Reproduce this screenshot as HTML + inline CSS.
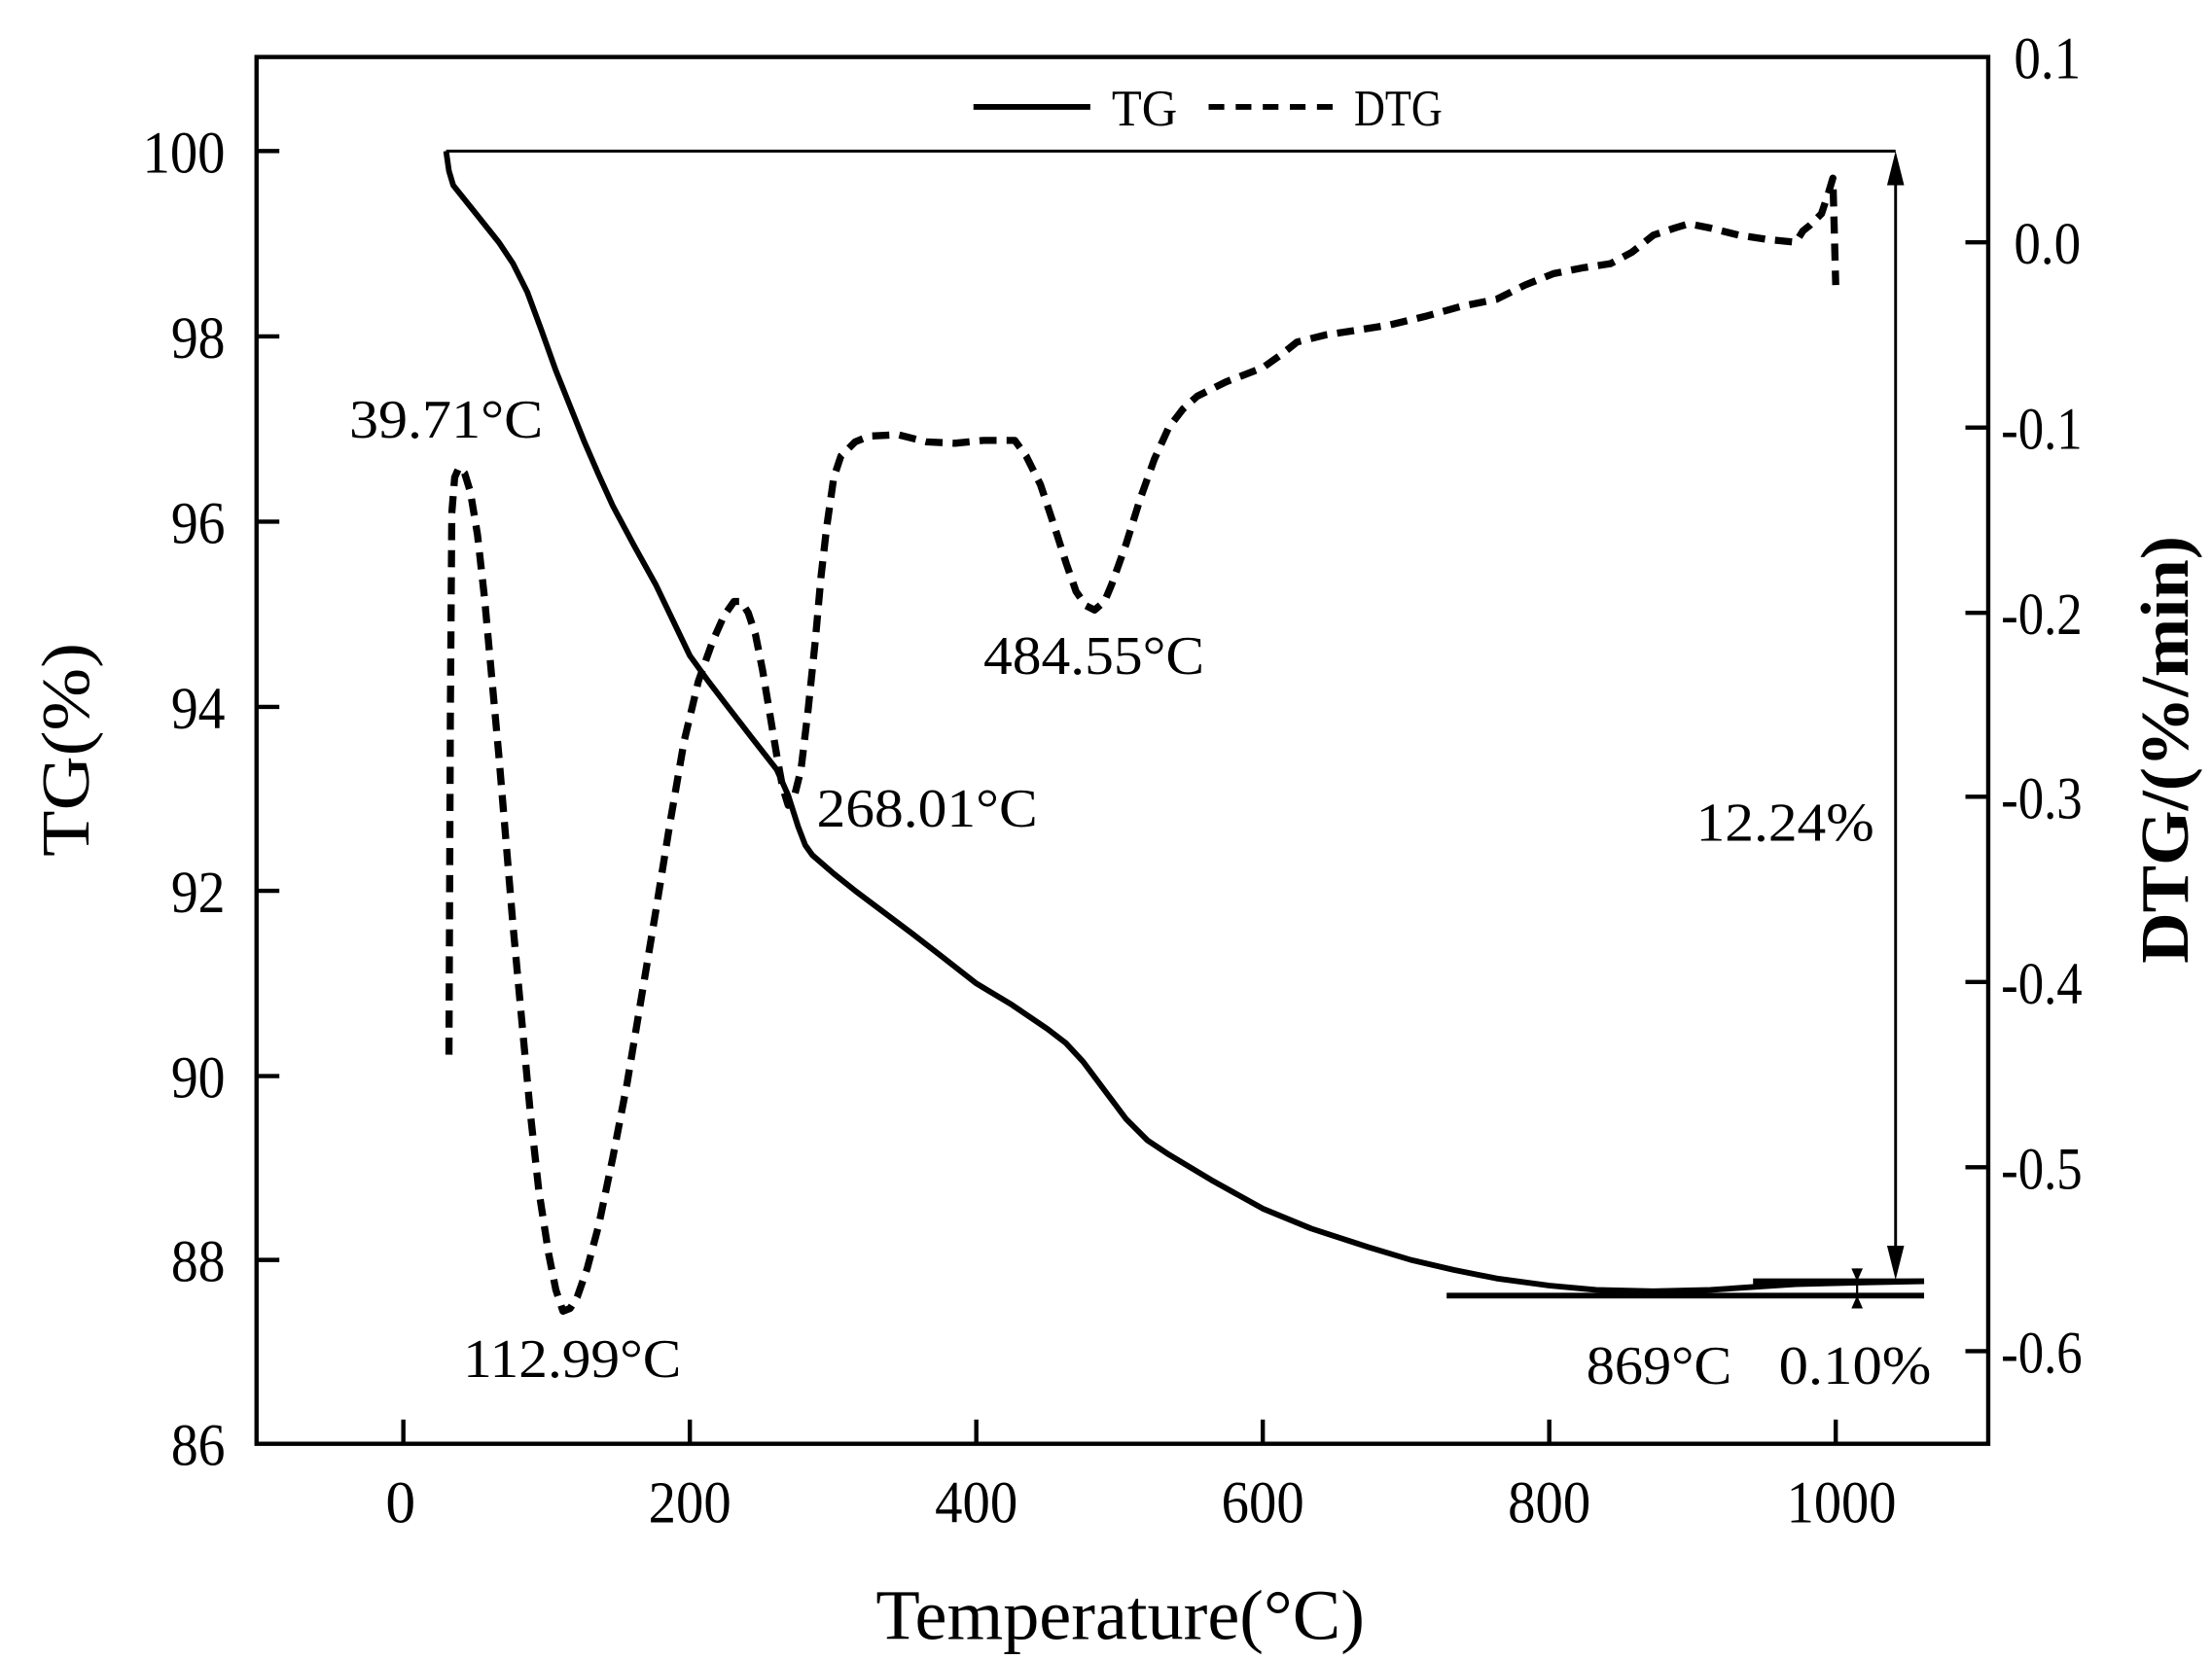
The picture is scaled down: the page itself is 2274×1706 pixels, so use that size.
<!DOCTYPE html>
<html><head><meta charset="utf-8"><style>
html,body{margin:0;padding:0;background:#fff;}
svg{display:block;}
text{font-family:"Liberation Serif",serif;fill:#000;}
</style></head><body>
<svg width="2274" height="1706" viewBox="0 0 1552 1164" preserveAspectRatio="none" xmlns="http://www.w3.org/2000/svg">
<rect x="0" y="0" width="1552" height="1164" fill="#fff"/>
<rect x="180" y="40" width="1215" height="973" fill="none" stroke="#000" stroke-width="3"/>
<g stroke="#000" stroke-width="3">
<line x1="283" y1="1013" x2="283" y2="996"/><line x1="484" y1="1013" x2="484" y2="996"/><line x1="685" y1="1013" x2="685" y2="996"/><line x1="886" y1="1013" x2="886" y2="996"/><line x1="1087" y1="1013" x2="1087" y2="996"/><line x1="1288" y1="1013" x2="1288" y2="996"/>
<line x1="180" y1="106" x2="196" y2="106"/><line x1="180" y1="236" x2="196" y2="236"/><line x1="180" y1="366" x2="196" y2="366"/><line x1="180" y1="496" x2="196" y2="496"/><line x1="180" y1="625" x2="196" y2="625"/><line x1="180" y1="755" x2="196" y2="755"/><line x1="180" y1="884" x2="196" y2="884"/>
<line x1="1379" y1="170" x2="1395" y2="170"/><line x1="1379" y1="300" x2="1395" y2="300"/><line x1="1379" y1="430" x2="1395" y2="430"/><line x1="1379" y1="559" x2="1395" y2="559"/><line x1="1379" y1="689" x2="1395" y2="689"/><line x1="1379" y1="819" x2="1395" y2="819"/><line x1="1379" y1="948" x2="1395" y2="948"/>
</g>
<g font-size="42" text-anchor="middle" lengthAdjust="spacingAndGlyphs">
<text x="281" y="1068" textLength="19">0</text><text x="484" y="1068" textLength="58" lengthAdjust="spacingAndGlyphs">200</text><text x="685" y="1068" textLength="58" lengthAdjust="spacingAndGlyphs">400</text><text x="886" y="1068" textLength="58" lengthAdjust="spacingAndGlyphs">600</text><text x="1087" y="1068" textLength="58" lengthAdjust="spacingAndGlyphs">800</text><text x="1292" y="1068" textLength="77" lengthAdjust="spacingAndGlyphs">1000</text>
</g>
<g font-size="42" text-anchor="end">
<text x="158" y="121" textLength="58" lengthAdjust="spacingAndGlyphs">100</text><text x="158" y="251" textLength="38" lengthAdjust="spacingAndGlyphs">98</text><text x="158" y="381" textLength="38" lengthAdjust="spacingAndGlyphs">96</text><text x="158" y="511" textLength="38" lengthAdjust="spacingAndGlyphs">94</text><text x="158" y="640" textLength="38" lengthAdjust="spacingAndGlyphs">92</text><text x="158" y="770" textLength="38" lengthAdjust="spacingAndGlyphs">90</text><text x="158" y="899" textLength="38" lengthAdjust="spacingAndGlyphs">88</text><text x="158" y="1028" textLength="38" lengthAdjust="spacingAndGlyphs">86</text>
</g>
<g font-size="42" text-anchor="start">
<text x="1413" y="55" textLength="47" lengthAdjust="spacingAndGlyphs">0.1</text><text x="1413" y="185" textLength="47" lengthAdjust="spacingAndGlyphs">0.0</text><text x="1404" y="315" textLength="57" lengthAdjust="spacingAndGlyphs">-0.1</text><text x="1404" y="445" textLength="57" lengthAdjust="spacingAndGlyphs">-0.2</text><text x="1404" y="574" textLength="57" lengthAdjust="spacingAndGlyphs">-0.3</text><text x="1404" y="704" textLength="57" lengthAdjust="spacingAndGlyphs">-0.4</text><text x="1404" y="834" textLength="57" lengthAdjust="spacingAndGlyphs">-0.5</text><text x="1404" y="963" textLength="57" lengthAdjust="spacingAndGlyphs">-0.6</text>
</g>
<text x="786" y="1150" font-size="50" text-anchor="middle" textLength="343" lengthAdjust="spacingAndGlyphs">Temperature(°C)</text>
<text transform="translate(62,526) rotate(-90)" font-size="48" text-anchor="middle" textLength="150" lengthAdjust="spacingAndGlyphs">TG(%)</text>
<text transform="translate(1535,526) rotate(-90)" font-size="48" font-weight="bold" text-anchor="middle" textLength="300" lengthAdjust="spacingAndGlyphs">DTG/(%/min)</text>
<!-- legend -->
<line x1="683" y1="75" x2="765" y2="75" stroke="#000" stroke-width="4"/>
<text x="780" y="88" font-size="36" textLength="46" lengthAdjust="spacingAndGlyphs">TG</text>
<line x1="848" y1="75" x2="935" y2="75" stroke="#000" stroke-width="4" stroke-dasharray="11,8"/>
<text x="950" y="88" font-size="36" textLength="62" lengthAdjust="spacingAndGlyphs">DTG</text>
<!-- annotation lines -->
<g stroke="#000" stroke-width="2">
<line x1="313" y1="106" x2="1330" y2="106"/>
<line x1="1330" y1="112" x2="1330" y2="892"/>
</g>
<polygon points="1330,106 1324,130 1336,130" fill="#000"/>
<polygon points="1330,898 1324,874 1336,874" fill="#000"/>
<line x1="1230" y1="899" x2="1350" y2="899" stroke="#000" stroke-width="4"/>
<line x1="1015" y1="909" x2="1350" y2="909" stroke="#000" stroke-width="4"/>
<line x1="1303" y1="890" x2="1303" y2="918" stroke="#000" stroke-width="1.5"/>
<polygon points="1303,899 1299,890 1307,890" fill="#000"/>
<polygon points="1303,909 1299,918 1307,918" fill="#000"/>
<!-- TG curve -->
<polyline fill="none" stroke="#000" stroke-width="4" stroke-linejoin="round" points="313,106 315,120 318,130 330,145 350,170 360,185 370,205 380,232 390,260 400,285 410,310 420,333 430,355 445,383 460,410 472,435 484,460 497,478 510,495 527,517 545,540 553,558 560,580 565,593 570,600 585,613 600,625 620,640 640,655 662,672 685,690 710,705 735,722 748,732 760,745 775,765 790,785 805,800 820,810 850,828 886,848 920,862 960,875 990,884 1020,891 1050,897 1087,902 1120,905 1160,906 1200,905 1230,903 1260,901 1300,900 1350,899"/>
<!-- DTG curve -->
<polyline fill="none" stroke="#000" stroke-width="5" stroke-dasharray="12,7" stroke-linejoin="round" points="315,740 316,500 317,360 319,335 322,328 326,332 330,345 335,375 340,420 345,475 350,530 355,590 360,650 366,715 372,780 378,835 385,880 390,905 395,920 400,918 405,910 412,890 420,860 430,812 440,760 450,700 460,640 470,578 480,520 490,478 500,450 508,432 515,422 520,422 525,430 530,445 535,470 540,500 545,530 549,552 553,565 557,560 562,540 567,498 572,450 576,405 580,370 585,335 590,320 600,310 610,306 630,305 650,310 670,311 690,309 712,309 720,320 730,340 740,370 748,395 755,415 762,425 768,428 775,422 780,410 790,382 800,350 810,322 820,300 830,287 840,278 860,268 886,258 900,248 910,240 930,235 950,232 975,228 1000,222 1025,215 1050,210 1070,200 1090,192 1110,188 1130,185 1145,177 1160,165 1175,160 1185,157 1200,160 1220,165 1240,168 1260,170 1265,162 1270,158 1278,150 1283,135 1286,125 1288,200"/>
<!-- labels -->
<g font-size="38">
<text x="245" y="307" textLength="136" lengthAdjust="spacingAndGlyphs">39.71°C</text>
<text x="325" y="966" textLength="153" lengthAdjust="spacingAndGlyphs">112.99°C</text>
<text x="573" y="580" textLength="155" lengthAdjust="spacingAndGlyphs">268.01°C</text>
<text x="690" y="473" textLength="155" lengthAdjust="spacingAndGlyphs">484.55°C</text>
<text x="1190" y="590" textLength="125" lengthAdjust="spacingAndGlyphs">12.24%</text>
<text x="1113" y="971" textLength="102" lengthAdjust="spacingAndGlyphs">869°C</text>
<text x="1248" y="971" textLength="107" lengthAdjust="spacingAndGlyphs">0.10%</text>
</g>
</svg>
</body></html>
